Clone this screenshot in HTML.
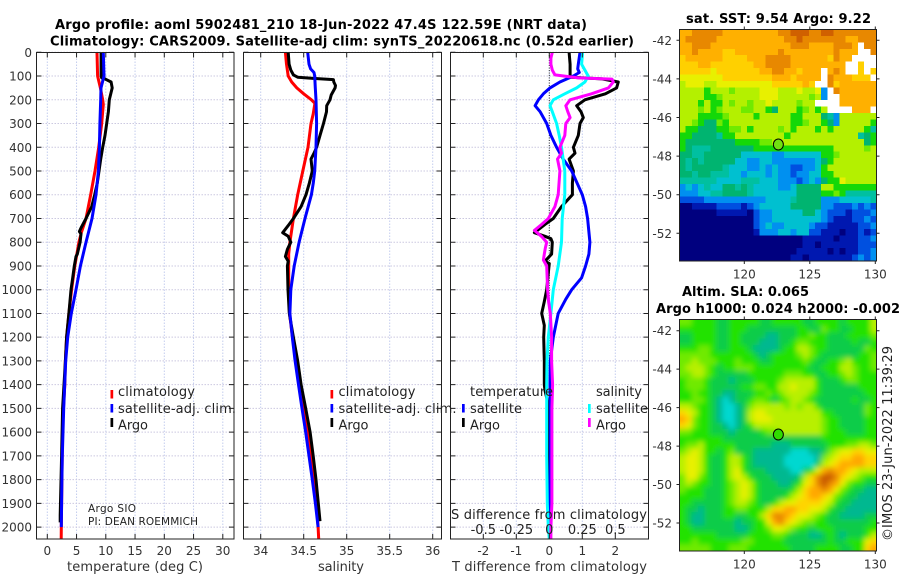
<!DOCTYPE html>
<html lang="en">
<head>
<meta charset="utf-8">
<title>Argo profile 5902481_210</title>
<style>
html,body{margin:0;padding:0;background:#fff;}
svg{display:block;font-family:"DejaVu Sans","Liberation Sans",sans-serif;}
</style>
</head>
<body>
<svg id="fig" xmlns="http://www.w3.org/2000/svg" width="900" height="580" viewBox="0 0 900 580">
  <defs>
    <clipPath id="clipSst"><rect x="679.5" y="29.5" width="197" height="231.5"/></clipPath>
    <clipPath id="clipSla"><rect x="679.5" y="319.5" width="197" height="231.5"/></clipPath>
    <filter id="smooth" filterUnits="userSpaceOnUse" x="640" y="280" width="270" height="300"><feGaussianBlur stdDeviation="2.6"/></filter>
  </defs>
  <rect x="0" y="0" width="900" height="580" fill="#fff"/>
  <g id="panels"></g>
  <g id="maps"></g>
  <text x="55" y="29" font-size="13" font-weight="bold" fill="#000" textLength="532">Argo profile: aoml 5902481_210 18-Jun-2022 47.4S 122.59E (NRT data)</text>
  <text x="50" y="45.5" font-size="13" font-weight="bold" fill="#000" textLength="584">Climatology: CARS2009. Satellite-adj clim: synTS_20220618.nc (0.52d earlier)</text>
  <text x="88" y="512" font-size="10.5" fill="#222" textLength="48">Argo SIO</text>
  <text x="88" y="525" font-size="10.5" fill="#222" textLength="110">PI: DEAN ROEMMICH</text>
  <text x="67" y="571" font-size="13" fill="#333" textLength="136">temperature (deg C)</text>
  <text x="318" y="571" font-size="13" fill="#333" textLength="46">salinity</text>
  <text x="452" y="571" font-size="13" fill="#333" textLength="195">T difference from climatology</text>
  <text x="451" y="519" font-size="13" fill="#222" textLength="196">S difference from climatology</text>
  <text x="686" y="23" font-size="13" font-weight="bold" fill="#000" textLength="185">sat. SST: 9.54 Argo: 9.22</text>
  <text x="682" y="296" font-size="13" font-weight="bold" fill="#000" textLength="127">Altim. SLA: 0.065</text>
  <text x="656" y="313" font-size="13" font-weight="bold" fill="#000" textLength="244">Argo h1000: 0.024 h2000: -0.002</text>
  <text transform="translate(892,541) rotate(-90)" x="0" y="0" font-size="13" fill="#222" textLength="195">©IMOS 23-Jun-2022 11:39:29</text>
</svg>
<script>
// ---------- chart data ----------
const depthTicks = [0,100,200,300,400,500,600,700,800,900,1000,1100,1200,1300,1400,1500,1600,1700,1800,1900,2000];
const tempTicks = [0,5,10,15,20,25,30];
const salTicks = [34,34.5,35,35.5,36];
const salTickLabels = ['34','34.5','35','35.5','36'];
const diffTicks = [-2,-1,0,1,2];
const sDiffTicks = [-0.5,-0.25,0,0.25,0.5];
const sDiffTickLabels = ['-0.5','-0.25','0','0.25','0.5'];
const lonTicks = [120,125,130];
const latTicks = [-42,-44,-46,-48,-50,-52];
const floatLon = [122.6];
const floatLat = [-47.4];

const tempClimDepth = [0,100,150,200,220,300,400,500,600,700,760,800,900,1000,1100,1200,1300,1400,1500,1600,1700,1800,1900,2000,2050];
const tempClimValue = [8.5,8.6,9.07,9.47,9.58,9.3,8.78,8.16,7.42,6.62,5.82,5.4,4.7,4.15,3.7,3.3,3.1,3.0,2.75,2.6,2.55,2.5,2.45,2.4,2.38];
const tempSatDepth = [0,100,150,200,300,400,500,600,700,800,900,1000,1100,1200,1300,1400,1500,1600,1700,1800,1900,2000];
const tempSatValue = [9.58,9.7,9.18,9.13,9.0,8.9,8.73,8.33,7.64,6.62,5.65,4.9,4.1,3.48,3.14,2.97,2.8,2.68,2.57,2.5,2.45,2.4];
const tempArgoDepth = [0,100,108,112,125,150,200,250,300,350,400,450,500,550,600,650,700,740,755,765,800,850,860,900,950,1000,1100,1200,1300,1350,1500,1700,1950,1980];
const tempArgoValue = [9.2,9.2,9.3,9.87,10.9,11.1,10.6,10.44,10.15,9.87,9.47,9.13,8.84,8.55,8.1,7.59,6.62,5.76,5.48,5.76,5.6,5.13,4.9,4.62,4.34,4.05,3.7,3.3,3.1,2.97,2.62,2.45,2.2,2.2];

const salClimDepth = [0,50,100,125,150,175,200,215,260,300,400,500,600,700,800,850,900,1000,1100,1200,1300,1400,1500,1600,1700,1800,1900,2000,2050];
const salClimValue = [34.287,34.30,34.32,34.36,34.42,34.50,34.59,34.63,34.61,34.585,34.55,34.49,34.43,34.38,34.34,34.325,34.325,34.325,34.335,34.37,34.41,34.46,34.5,34.555,34.59,34.62,34.65,34.667,34.674];
const salSatDepth = [0,50,70,85,100,150,200,300,400,500,550,600,700,800,900,1000,1100,1200,1300,1400,1500,1600,1700,1800,1900,2000];
const salSatValue = [34.546,34.562,34.58,34.62,34.628,34.635,34.643,34.65,34.643,34.628,34.612,34.59,34.515,34.446,34.39,34.35,34.34,34.368,34.4,34.44,34.48,34.523,34.562,34.6,34.636,34.667];
const salArgoDepth = [0,50,75,95,105,110,115,125,140,150,180,200,225,250,300,350,400,425,450,500,550,600,650,700,730,760,775,800,830,860,880,900,1000,1100,1200,1300,1400,1500,1600,1700,1800,1900,1975];
const salArgoValue = [34.32,34.33,34.35,34.38,34.43,34.61,34.845,34.85,34.87,34.865,34.82,34.806,34.767,34.765,34.73,34.69,34.65,34.62,34.585,34.6,34.566,34.527,34.47,34.38,34.32,34.256,34.32,34.35,34.31,34.287,34.32,34.31,34.318,34.333,34.38,34.43,34.47,34.523,34.574,34.61,34.643,34.67,34.69];

const tDiffArgoDepth = [0,50,95,105,112,125,150,175,200,225,250,275,300,350,400,425,450,500,550,600,650,700,725,760,775,785,800,850,880,890,900,1000,1050,1100,1150,1200,1300,1400,1425,1500,1700,2000];
const tDiffArgoValue = [0.6,0.63,0.63,0.65,1.6,2.09,2.04,1.7,1.08,0.83,0.96,1.03,0.93,0.88,0.73,0.78,0.6,0.73,0.7,0.7,0.37,0.12,-0.13,-0.45,-0.13,0.05,0.09,0.07,-0.13,0,-0.01,-0.08,-0.15,-0.23,-0.15,-0.17,-0.15,-0.15,-0.13,0,0,0];
const tDiffSatDepth = [0,50,70,85,100,125,150,175,200,225,250,300,350,400,450,500,600,650,700,800,850,900,950,1000,1040,1100,1200,1300,1400,1500,1700,1900,2000];
const tDiffSatValue = [0.93,0.88,0.86,0.91,0.73,0.32,0.02,-0.18,-0.33,-0.43,-0.28,-0.08,0.05,0.22,0.42,0.68,1.0,1.1,1.16,1.23,1.2,1.1,0.98,0.68,0.5,0.27,0.12,0.03,0.02,0.03,0.03,0.02,0];
const sDiffSatDepth = [0,50,75,100,125,150,175,200,225,250,300,350,400,500,600,700,800,900,1000,1100,1200,1300,1400,1500,1700,1900,2000,2050];
const sDiffSatValue = [0.2525,0.245,0.27,0.295,0.27,0.2075,0.1175,0.03,0.005,0.0225,0.055,0.075,0.0925,0.1175,0.1175,0.0975,0.0925,0.0675,0.03,0.0125,-0.0075,-0.0175,-0.02,-0.02,-0.02,-0.015,-0.0075,0];
const sDiffArgoDepth = [0,25,50,75,95,108,113,125,150,175,200,225,250,275,300,350,400,425,450,500,600,650,700,725,750,775,800,825,850,875,900,1000,1050,1100,1200,1300,1400,1500,1900,2000,2050];
const sDiffArgoValue = [0.0225,0.0125,0.0125,0.0225,0.0425,0.22,0.475,0.485,0.4475,0.32,0.1575,0.125,0.14,0.1575,0.125,0.1175,0.08,0.0925,0.0625,0.08,0.0675,0.0425,-0.0075,-0.0575,-0.1125,-0.06,-0.02,-0.03,-0.0375,-0.045,-0.02,-0.0125,-0.005,0.0075,0.0175,0.0175,0.025,0.02,0.02,0.0125,0.0125];

const mapLevels = ['a','b','c','d','e','f','g','h','i','j','k','l','m','n','o','w'];
const sstColours = ['#00007f','#0018b0','#0050e0','#0090f0','#00c0d0','#00c0a0','#00b470','#14d808','#70ea00','#b4f000','#e8f000','#ffd000','#ffb000','#e88800','#d06000','#ffffff'];
const slaColours = ['#00007f','#0018b0','#0050e0','#0090f0','#00d8d0','#00b890','#08cc48','#24e200','#70ea00','#b8f000','#e8f000','#ffd400','#ffa800','#e88800','#c85800','#ffffff'];

const sstRows = [
'mmnnnnnmmmmmmmmmnnooonnoonnnnnnn',
'mnnnnnmmmmmmmmmmmnnonnnnnnnmmnnn',
'mmnnnmmmmmmmmmmmmmnnnmmmmnnnmwnn',
'mmnmmmmllmmmmmmmnmmmmmmmmnmmmwwn',
'lmmmmmmllllmmmnnnnmmmmmmlnmmwwww',
'lllmmlllllllmmnnnnmmmmmmmmmwwlww',
'lllllklllllllmmnnmmlmmmwmnmwwlwl',
'kkkkkkkllllllllmmmlmmmmwnmmmlllw',
'jkkkjjkkkkkkkkklllllmlwwnlmmmmmm',
'jjjjhjjjijjjjkkkjjjkjjkdwnmmmmmm',
'jjjjhhijjjjjjkkkjjjjjijdwwmmmmmm',
'jjjhjhhjijjijjkjjjjijjwwwwmmmmmm',
'jjjijhijjjiijjhgjjjhijhjwwwwmmmw',
'jjjhhhhijjjjhjjjjjhhjjjgfdjjjjjj',
'jjihggihjjjjjjjjjjhhijjhgdjjjjjh',
'jhhggghhiijhjjjjijhjjjhjhjjjjjhf',
'hhggggfhhjjjjjjjjhjjjjjjjjjjjfgh',
'hgggggggghhhhiijjjjjjjjjjjjjjjgh',
'hgfffggggggghhhhhhhhhhhhhjjjjjij',
'ggffggggggeeeeeddeeeeeehhijjjjjj',
'gfgfgggggeeddeedddddddeghjjjjjjj',
'gfgggggfeeeddededdccddehjjjjjjjj',
'ggfggfffeedeeededdcddeehhjjjjjjj',
'ffffffeeeefffeeedddcdedghhkjjjjj',
'dedefeeggfgfeeeeddeggggjjhhhhhhh',
'dddeeffggggfeeeeeeegggghhihfffff',
'ccccddddddddddeeeefggggdddeeeeef',
'aabbbbccccbcdeeeeegggggddcccdcdc',
'aaaaaabbbbbacddeeeeeggedcccbcccd',
'aaaaaaaaaaaacddeeeeeeeedcbbbccdc',
'aaaaaaaaaaaacdeddeeeedccbbbbbccd',
'aaaaaaaaaaaabdddeedeeccbbbabbcbc',
'aaaaaaaaaaaaaaaaaaaabbbbbabbbccd',
'aaaaaaaaaaaaaaaaaaaabbabbbbbbccc',
'aaaaaaaaaaaaaaaaaaabbbbbababbccd',
'aaaaaaaaaaaaaaaaaabbabbbbbbbcdcd'
];
const slaRows = [
'iihhhhgghhhhhgghhhhhgghhhhghhhhj',
'hhhhhhgghhhgggggggghhggihhgghhhj',
'gghhhhgghhggggffggghhihhggghhhhi',
'gghhhhgghhgggfffgghiihhhgggghggh',
'hhhiihgghhhgffffghhjjihhggggggih',
'iiiiihhhhhhhgfghhhhijihgggggghhi',
'iijiiihhhihhhgghhhhhihgghhijhhhi',
'ijjjihghhiiihhhhhhhhhgghhhjjihhi',
'iijjihggggghhhhhhiiihhgghhijihhh',
'hiiihgggfggghhhhijjjjjhggghiihhh',
'hiiihggggghhiihhjjkjjjhgggggghhh',
'hhihhggffggghhihijjjjihggggggghh',
'hhiihgfefgghiihghijjihgggggghggh',
'jjihhgfeefgijjjjjijijjhgggggggih',
'lkjhhgfeefgjkkjjjjjjjjjhhgggggih',
'mlihhgfeefgjkkkjjjjjjjjihhgggghh',
'lkihhggfefghjjjjjjjjjjjihhgggghh',
'iihhhgggfgggghiijjjjjjjihhhggghh',
'hhhhhhhgggggggggggggggghhhhhhhhh',
'hiijhhhhhggggggfffgggggghhhiijji',
'ijkjhhghigggffffffeeeffgijkkllkk',
'jkkjhgghjjhgfffffeeeeefijkllmmll',
'jkkjhgghjjhgfffffeeeeegjklmmmmll',
'jkkjhgghjkhgggffffeeghkmnmmlkjjj',
'ikkihgghjkjhgggffffgjlnoonlkjihh',
'ijihhgghijkjhgggffghklnonmkihhgg',
'ihhhggghijkjhggggghjlmmnmkihggff',
'hhhhggghijkjhgggghjklmmlkihggfff',
'hhggggghijjihgghjkkllllkjhggffff',
'hggfggghhiihhhjllmmllkkjhggfffff',
'hgffggghhgghhjlnnmlkkjihggffffgg',
'hgffgggggfgghhkmnlkjiihhgggggggh',
'hhgggggggffghhikkjihhghhhggggghh',
'hhhhhhggggghhhhiihgggffghgfggghj',
'hhihhhhhhhiihhhhhggggggghgghhhkl',
'iiiiihhhiiihhhhhhhgggghhhhgghhlm'
];

// ---------- geometry ----------
const NS = 'http://www.w3.org/2000/svg';
const panelsG = document.getElementById('panels');
const mapsG = document.getElementById('maps');
const depthToY = d => 52.3 + d * 0.2374;
const tempToX = v => 47.3 + v * 5.85;
const salToX = v => 260.7 + (v - 34) * 86;
const diffToX = v => 549.3 + v * 33;
const sDiffToX = v => 549.3 + v * 132;
const lonToX = v => 744.3 + (v - 120) * 13.1;
const sstLatToY = v => 40.3 + (-42 - v) * 19.3;
const slaLatToY = v => 330.7 + (-42 - v) * 19.23;

function mk(tag, parent, attrs) {
  const e = document.createElementNS(NS, tag);
  for (const k in attrs) e.setAttribute(k, attrs[k]);
  parent.appendChild(e);
  return e;
}
function mkText(parent, str, x, y, size, fill, anchor, len) {
  const attrs = {x: x, y: y, 'font-size': size, fill: fill, 'text-anchor': anchor || 'start'};
  if (len) attrs.textLength = len;
  const t = mk('text', parent, attrs);
  t.textContent = str;
  return t;
}
function polyPoints(depths, values, toX) {
  return depths.map((d, i) => toX(values[i]).toFixed(1) + ',' + depthToY(d).toFixed(1)).join(' ');
}
function drawSeries(parent, depths, values, toX, colour, name) {
  const p = mk('polyline', parent, {points: polyPoints(depths, values, toX), fill: 'none', stroke: colour, 'stroke-width': 3, 'stroke-linejoin': 'round', 'stroke-linecap': 'butt'});
  
  
}
function drawFrame(parent, x0, x1, xTickPositions, xLabels, panelName) {
  const y0 = 52.5, y1 = 539;
  xTickPositions.forEach(x => {
    const g = mk('line', parent, {x1: x, x2: x, y1: y0, y2: y1, stroke: '#c4cdee', 'stroke-width': 1, 'stroke-dasharray': '1.5 1.5'});
    
    
  });
  depthTicks.forEach(d => {
    const g = mk('line', parent, {x1: x0, x2: x1, y1: depthToY(d), y2: depthToY(d), stroke: '#cbc8e0', 'stroke-width': 1, 'stroke-dasharray': '1.5 1.5'});
    
    
  });
}
function drawBox(parent, x0, x1, xTickPositions, panelName) {
  const y0 = 52.5, y1 = 539;
  const box = mk('rect', parent, {x: x0, y: y0, width: x1 - x0, height: y1 - y0, fill: 'none', stroke: '#222', 'stroke-width': 1});
  
  
  depthTicks.forEach(d => {
    const y = depthToY(d);
    const a = mk('path', parent, {d: 'M' + x0 + ' ' + y + 'h5M' + x1 + ' ' + y + 'h-5', stroke: '#222', 'stroke-width': 1, fill: 'none'});
    
    
  });
  xTickPositions.forEach(x => {
    const a = mk('path', parent, {d: 'M' + x + ' ' + y0 + 'v5M' + x + ' ' + y1 + 'v-5', stroke: '#222', 'stroke-width': 1, fill: 'none'});
    
    
  });
}
function legendEntry(parent, stubX, textX, stubY0, stubY1, colour, label, baseline, len, name) {
  const s = mk('rect', parent, {x: stubX, y: stubY0, width: 2.7, height: stubY1 - stubY0, fill: colour});
  
  
  const t = mkText(parent, label, textX, baseline, 13, '#222', 'start', len);
  
  
}

// ---------- panel 1: temperature ----------
const tempX = tempTicks.map(tempToX);
drawFrame(panelsG, 36.5, 234, tempX, tempTicks, 'temperature-panel');
drawSeries(panelsG, tempClimDepth, tempClimValue, tempToX, '#ff0000', 'temperature-climatology-line');
drawSeries(panelsG, tempArgoDepth, tempArgoValue, tempToX, '#000000', 'temperature-argo-line');
drawSeries(panelsG, tempSatDepth, tempSatValue, tempToX, '#0000ff', 'temperature-satellite-line');
drawBox(panelsG, 36.5, 234, tempX, 'temperature-panel');
depthTicks.forEach(d => {
  const t = mkText(panelsG, String(d), 32, depthToY(d) + 4.5, 12, '#333', 'end');
  
  
});
tempTicks.forEach(v => {
  const t = mkText(panelsG, String(v), tempToX(v), 555, 12, '#333', 'middle');
  
  
});
legendEntry(panelsG, 110.5, 118, 390, 398.5, '#ff0000', 'climatology', 396, 77, 'temperature-legend-climatology');
legendEntry(panelsG, 110.5, 118, 404, 412.5, '#0000ff', 'satellite-adj. clim.', 413, 118, 'temperature-legend-satellite');
legendEntry(panelsG, 110.5, 118, 418, 427, '#000000', 'Argo', 429.5, 30, 'temperature-legend-argo');

// ---------- panel 2: salinity ----------
const salX = salTicks.map(salToX);
drawFrame(panelsG, 243.5, 441.5, salX, salTickLabels, 'salinity-panel');
drawSeries(panelsG, salClimDepth, salClimValue, salToX, '#ff0000', 'salinity-climatology-line');
drawSeries(panelsG, salArgoDepth, salArgoValue, salToX, '#000000', 'salinity-argo-line');
drawSeries(panelsG, salSatDepth, salSatValue, salToX, '#0000ff', 'salinity-satellite-line');
drawBox(panelsG, 243.5, 441.5, salX, 'salinity-panel');
salTicks.forEach((v, i) => {
  const t = mkText(panelsG, salTickLabels[i], salToX(v), 555, 12, '#333', 'middle');
  
  
});
legendEntry(panelsG, 330.5, 338.5, 390, 398.5, '#ff0000', 'climatology', 396, 77, 'salinity-legend-climatology');
legendEntry(panelsG, 330.5, 338.5, 404, 412.5, '#0000ff', 'satellite-adj. clim.', 413, 118, 'salinity-legend-satellite');
legendEntry(panelsG, 330.5, 338.5, 418, 427, '#000000', 'Argo', 429.5, 30, 'salinity-legend-argo');

// ---------- panel 3: differences ----------
const diffX = diffTicks.map(diffToX);
drawFrame(panelsG, 450.5, 648.5, diffX, diffTicks, 'difference-panel');
const zeroLine = mk('line', panelsG, {x1: diffToX(0), x2: diffToX(0), y1: 52.5, y2: 539, stroke: '#333', 'stroke-width': 1, 'stroke-dasharray': '1 1.5'});


drawSeries(panelsG, tDiffArgoDepth, tDiffArgoValue, diffToX, '#000000', 't-difference-argo-line');
drawSeries(panelsG, tDiffSatDepth, tDiffSatValue, diffToX, '#0000ff', 't-difference-satellite-line');
drawSeries(panelsG, sDiffSatDepth, sDiffSatValue, sDiffToX, '#00ffff', 's-difference-satellite-line');
drawSeries(panelsG, sDiffArgoDepth, sDiffArgoValue, sDiffToX, '#ff00ff', 's-difference-argo-line');
drawBox(panelsG, 450.5, 648.5, diffX, 'difference-panel');
diffTicks.forEach(v => {
  const t = mkText(panelsG, String(v), diffToX(v), 555, 12, '#333', 'middle');
  
  
});
sDiffTicks.forEach((v, i) => {
  const t = mkText(panelsG, sDiffTickLabels[i], sDiffToX(v), 534, 13, '#222', 'middle');
  
  
});
const tempHead = mkText(panelsG, 'temperature', 470, 396, 13, '#222', 'start', 83);


const salHead = mkText(panelsG, 'salinity', 596, 396, 13, '#222', 'start', 46);


legendEntry(panelsG, 462, 470, 404, 412.5, '#0000ff', 'satellite', 413, 52, 'difference-legend-t-satellite');
legendEntry(panelsG, 462, 470, 418, 427, '#000000', 'Argo', 429.5, 30, 'difference-legend-t-argo');
legendEntry(panelsG, 588, 596, 404, 413, '#00ffff', 'satellite', 413, 52, 'difference-legend-s-satellite');
legendEntry(panelsG, 588, 596, 418, 427, '#ff00ff', 'Argo', 429.5, 30, 'difference-legend-s-argo');

// ---------- maps ----------
function cellColour(rows, palette, r, c) {
  const row = rows[Math.max(0, Math.min(rows.length - 1, r))];
  const ch = row[Math.max(0, Math.min(31, c))];
  const idx = mapLevels.indexOf(ch);
  return palette[idx < 0 ? 7 : idx];
}
function drawMap(rows, palette, yTop, clipId, smooth, latToY, name, markerFill, markerRy) {
  const x0 = 679.5, w = 197, h = 231.5, nc = 32, nr = rows.length;
  const cw = w / nc, ch = h / nr;
  const clip = mk('g', mapsG, {'clip-path': 'url(#' + clipId + ')'});
  
  
  const cells = mk('g', clip, smooth ? {filter: 'url(#smooth)'} : {'shape-rendering': 'crispEdges'});
  const pad = smooth ? 3 : 0;
  for (let r = -pad; r < nr + pad; r++) {
    for (let c = -pad; c < nc + pad; c++) {
      const cell = mk('rect', cells, {x: (x0 + c * cw).toFixed(2), y: (yTop + r * ch).toFixed(2), width: (cw + 0.4).toFixed(2), height: (ch + 0.4).toFixed(2), fill: cellColour(rows, palette, r, c)});
      
      
    }
  }
  const frame = mk('rect', mapsG, {x: x0, y: yTop, width: w, height: h, fill: 'none', stroke: '#222', 'stroke-width': 1});
  
  
  lonTicks.forEach(v => {
    const x = lonToX(v);
    const tk = mk('path', mapsG, {d: 'M' + x + ' ' + yTop + 'v-3M' + x + ' ' + (yTop + h) + 'v3', stroke: '#222', 'stroke-width': 1, fill: 'none'});
    
    
    const t = mkText(mapsG, String(v), x, yTop + h + 17.5, 12, '#333', 'middle');
    
    
  });
  latTicks.forEach(v => {
    const y = latToY(v);
    const tk = mk('path', mapsG, {d: 'M' + x0 + ' ' + y + 'h-3M' + (x0 + w) + ' ' + y + 'h3', stroke: '#222', 'stroke-width': 1, fill: 'none'});
    
    
    const t = mkText(mapsG, String(v), 672, y + 4.5, 12, '#333', 'end');
    
    
  });
  const marker = mk('ellipse', mapsG, {cx: lonToX(floatLon[0]), cy: latToY(floatLat[0]), rx: 5, ry: markerRy, fill: markerFill, stroke: '#000', 'stroke-width': 1});
  
  
}
drawMap(sstRows, sstColours, 29.5, 'clipSst', false, sstLatToY, 'sst-map', '#70e010', 5.5);
drawMap(slaRows, slaColours, 319.5, 'clipSla', true, slaLatToY, 'sla-map', '#30dc00', 5.5);
</script>
</body>
</html>
